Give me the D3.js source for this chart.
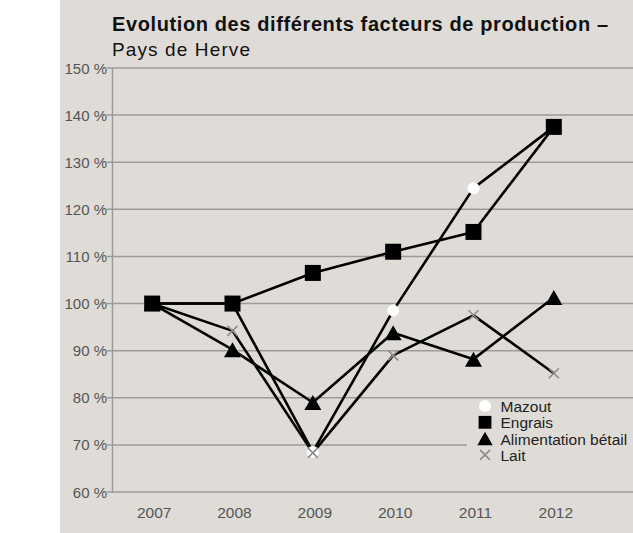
<!DOCTYPE html>
<html>
<head>
<meta charset="utf-8">
<script src="https://cdn.jsdelivr.net/npm/d3@7"></script>
<style>
  body { margin: 0; background: #fff; }
  text { font-family: "Liberation Sans", Arial, sans-serif; }
</style>
</head>
<body>
<div id="chart"></div>
<script>
const years = [2007, 2008, 2009, 2010, 2011, 2012];
const yTicks = [60, 70, 80, 90, 100, 110, 120, 130, 140, 150];

const mazout = [100, 100, 68.5, 98.5, 124.5, 137.5];
const engrais = [100, 100, 106.5, 111, 115.2, 137.5];
const alimentation = [100, 90.2, 79, 93.8, 88.2, 101.3];
const lait = [100, 94.2, 68.3, 89, 97.5, 85.2];

const seriesNames = ['Mazout', 'Engrais', 'Alimentation bétail', 'Lait'];

const W = 633, H = 533;
const svg = d3.select('#chart').append('svg')
    .attr('width', W)
    .attr('height', H);

// gray panel
svg.append('rect')
    .attr('x', 60).attr('y', 0)
    .attr('width', W - 60).attr('height', H)
    .style('fill', '#dfdcd7');

const x = d3.scalePoint()
    .domain(years)
    .range([112, 594])
    .padding(0.5);

const y = d3.scaleLinear()
    .domain([60, 150])
    .range([492, 68]);

// grid lines (70 % line stops before the legend)
const legendGapY = 70;
svg.append('g').selectAll('line')
    .data(yTicks)
    .join('line')
    .attr('x1', 107)
    .attr('x2', d => d === legendGapY ? 467 : W)
    .attr('y1', d => y(d))
    .attr('y2', d => y(d))
    .style('stroke', '#9d9b98')
    .style('stroke-width', 1.5);

// y axis line
svg.append('line')
    .attr('x1', 112.5).attr('x2', 112.5)
    .attr('y1', y(150)).attr('y2', y(60) + 1)
    .style('stroke', '#9d9b98')
    .style('stroke-width', 1.5);

// y labels
svg.append('g').selectAll('text')
    .data(yTicks)
    .join('text')
    .attr('x', 107)
    .attr('y', d => y(d) + 5.5)
    .attr('text-anchor', 'end')
    .style('font-size', '15px')
    .style('fill', '#555')
    .text(d => d + ' %');

// x labels
svg.append('g').selectAll('text')
    .data(years)
    .join('text')
    .attr('x', d => x(d) + 2)
    .attr('y', 518)
    .attr('text-anchor', 'middle')
    .style('font-size', '15.5px')
    .style('fill', '#555')
    .text(d => d);

// title
svg.append('text')
    .attr('x', 112).attr('y', 30.5)
    .attr('textLength', 496)
    .attr('lengthAdjust', 'spacing')
    .style('font-size', '20px')
    .style('font-weight', 'bold')
    .style('fill', '#111')
    .text('Evolution des différents facteurs de production –');

svg.append('text')
    .attr('x', 112).attr('y', 56)
    .attr('textLength', 138)
    .attr('lengthAdjust', 'spacing')
    .style('font-size', '19px')
    .style('fill', '#111')
    .text('Pays de Herve');

const line = d3.line()
    .x((d, i) => x(years[i]))
    .y(d => y(d));

const allSeries = [mazout, engrais, alimentation, lait];
svg.append('g').selectAll('path')
    .data(allSeries)
    .join('path')
    .attr('d', line)
    .style('fill', 'none')
    .style('stroke', '#000')
    .style('stroke-width', 2.6)
    .style('stroke-linejoin', 'round');

function drawMarker(g, kind, cx, cy, scale) {
    if (kind === 0) {
        g.append('circle')
            .attr('cx', cx).attr('cy', cy)
            .attr('r', 6 * scale)
            .style('fill', '#fff');
    } else if (kind === 1) {
        const s = 16 * scale;
        g.append('rect')
            .attr('x', cx - s / 2).attr('y', cy - s / 2)
            .attr('width', s).attr('height', s)
            .style('fill', '#000');
    } else if (kind === 2) {
        const hw = 8.5 * scale, hh = 7.5 * scale;
        g.append('path')
            .attr('d', `M${cx},${cy - hh}L${cx + hw},${cy + hh}L${cx - hw},${cy + hh}Z`)
            .style('fill', '#000');
    } else {
        const h = 5 * scale;
        g.append('path')
            .attr('d', `M${cx - h},${cy - h}L${cx + h},${cy + h}M${cx - h},${cy + h}L${cx + h},${cy - h}`)
            .style('stroke', '#8a8a8a')
            .style('stroke-width', 1.5)
            .style('fill', 'none');
    }
}

// squares drawn last so they hide the other markers at 2007
const markerOrder = [0, 2, 3, 1];
const markers = svg.append('g');
markerOrder.forEach(k => {
    allSeries[k].forEach((v, i) => drawMarker(markers, k, x(years[i]), y(v), 1));
});

// legend
const legend = svg.append('g');
seriesNames.forEach((name, k) => {
    const ly = 406 + k * 16.3;
    drawMarker(legend, k, 485, ly, k === 1 ? 0.8 : (k === 2 ? 0.9 : 1));
    legend.append('text')
        .attr('x', 500.5)
        .attr('y', ly + 6)
        .style('font-size', '15.5px')
        .style('fill', '#222')
        .text(name);
});
</script>
</body>
</html>
